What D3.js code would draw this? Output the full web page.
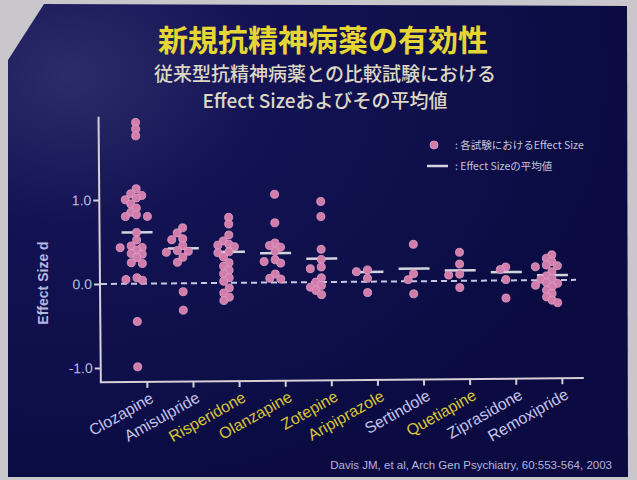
<!DOCTYPE html>
<html>
<head>
<meta charset="utf-8">
<script src="https://cdn.jsdelivr.net/npm/d3@7/dist/d3.min.js"></script>
<style>
  html, body { margin: 0; padding: 0; background: #c9c6cc; }
  svg { display: block; }
</style>
</head>
<body>
<svg id="chart" width="637" height="480"></svg>
<script>
// ---------- data ----------
const categories = ["Clozapine", "Amisulpride", "Risperidone", "Olanzapine", "Zotepine",
                    "Aripiprazole", "Sertindole", "Quetiapine", "Ziprasidone", "Remoxipride"];
const highlighted = ["Risperidone", "Olanzapine", "Zotepine", "Aripiprazole", "Quetiapine"];

const clozapine    = [1.92, 1.84, 1.76, 1.13, 1.07, 1.05, 1.02, 1.00, 0.95, 0.90, 0.85, 0.82, 0.80, 0.80,
                      0.61, 0.52, 0.45, 0.43, 0.43, 0.40, 0.36, 0.35, 0.31, 0.25, 0.24, 0.07, 0.05, 0.04, -0.45, -0.99];
const amisulpride  = [0.66, 0.60, 0.53, 0.52, 0.45, 0.39, 0.38, 0.37, 0.31, 0.25, -0.10, -0.32];
const risperidone  = [0.78, 0.70, 0.57, 0.50, 0.46, 0.45, 0.43, 0.37, 0.36, 0.31, 0.24, 0.20, 0.15, 0.11,
                      0.06, 0.02, -0.06, -0.12, -0.17, -0.21];
const olanzapine   = [1.05, 0.71, 0.47, 0.44, 0.42, 0.37, 0.27, 0.25, 0.23, 0.10, 0.05, 0.04];
const zotepine     = [0.96, 0.78, 0.39, 0.27, 0.18, 0.16, 0.05, 0.00, -0.04, -0.06, -0.10, -0.15];
const aripiprazole = [0.14, 0.12, 0.04, -0.13];
const sertindole   = [0.44, 0.09, 0.02, -0.15];
const quetiapine   = [0.34, 0.20, 0.08, 0.07, -0.08];
const ziprasidone  = [0.16, 0.13, 0.01, -0.21];
const remoxipride  = [0.30, 0.26, 0.22, 0.18, 0.17, 0.16, 0.10, 0.05, 0.02, 0.01, -0.03, -0.04, -0.06,
                      -0.08, -0.12, -0.16, -0.20, -0.24, -0.27];
const studyValues = [clozapine, amisulpride, risperidone, olanzapine, zotepine,
                     aripiprazole, sertindole, quetiapine, ziprasidone, remoxipride];
const meanValues  = [0.61, 0.415, 0.37, 0.35, 0.28, 0.115, 0.15, 0.125, 0.10, 0.06];
const yTicks = [-1.0, 0.0, 1.0];

const titleText = "新規抗精神病薬の有効性";
const subtitle1 = "従来型抗精神病薬との比較試験における";
const subtitle2 = "Effect Sizeおよびその平均値";
const yLabel = "Effect Size d";
const legendDot = ": 各試験におけるEffect Size";
const legendLine = ": Effect Sizeの平均値";
const sourceText = "Davis JM, et al, Arch Gen Psychiatry, 60:553-564, 2003";

// ---------- drawing ----------
const svg = d3.select("#chart");
const sans = "'Liberation Sans', Arial, Helvetica, sans-serif";
const cjk = "'Noto Sans CJK JP', 'Liberation Sans', sans-serif";

const defs = svg.append("defs");
const grad = defs.append("radialGradient").attr("id", "bg")
  .attr("cx", "0.1").attr("cy", "0.15").attr("r", "0.9");
grad.append("stop").attr("offset", "0").attr("stop-color", "#2c2c6a");
grad.append("stop").attr("offset", "0.35").attr("stop-color", "#131354");
grad.append("stop").attr("offset", "1").attr("stop-color", "#0b0b42");

// slide body with cut top-left corner (photo)
svg.append("path")
  .attr("d", "M44,4 L627,6 L628,477 L8,477 L8,60 Z")
  .attr("fill", "url(#bg)");

// titles
svg.append("text").attr("x", 323).attr("y", 51).attr("text-anchor", "middle")
  .attr("font-family", cjk).attr("font-weight", "bold").attr("font-size", 30)
  .attr("fill", "#e6d634").text(titleText);
svg.append("text").attr("x", 325).attr("y", 81).attr("text-anchor", "middle")
  .attr("font-family", cjk).attr("font-weight", 500).attr("font-size", 19)
  .attr("fill", "#dcd8c4").text(subtitle1);
svg.append("text").attr("x", 325).attr("y", 108).attr("text-anchor", "middle")
  .attr("font-family", cjk).attr("font-weight", 500).attr("font-size", 19)
  .attr("fill", "#dcd8c4").text(subtitle2);

// chart group (slightly rotated like the photographed slide)
const g = svg.append("g").attr("transform", "rotate(-0.5,100,284)");

const x = d3.scalePoint().domain(categories).range([137, 552]);
const y = d3.scaleLinear().domain([-1, 1]).range([368, 200]);
const yMin = -1.17, yMax = 1.99;
const tickShift = 9;
const axisColor = "#d6d0d4";

// y axis
const yAxis = d3.axisLeft(y).tickValues(yTicks).tickFormat(d => d.toFixed(1)).tickSize(6).tickSizeOuter(0);
const yg = g.append("g").attr("transform", "translate(100,0)").call(yAxis);
yg.select(".domain").remove();
yg.selectAll(".tick line").attr("stroke", axisColor).attr("stroke-width", 2);
yg.selectAll(".tick text").attr("fill", "#bcbce2").attr("font-family", sans)
  .attr("font-size", 14).attr("x", -8);
g.append("line").attr("x1", 100).attr("x2", 100).attr("y1", y(yMax)).attr("y2", y(yMin))
  .attr("stroke", axisColor).attr("stroke-width", 2);

// x axis
const xAxis = d3.axisBottom(x).tickSize(6).tickSizeOuter(0).tickFormat(() => "");
const xg = g.append("g").attr("transform", `translate(${tickShift},${y(yMin)})`).call(xAxis);
xg.select(".domain").remove();
xg.selectAll(".tick line").attr("stroke", axisColor).attr("stroke-width", 2);
g.append("line").attr("x1", 99).attr("x2", 583).attr("y1", y(yMin)).attr("y2", y(yMin))
  .attr("stroke", axisColor).attr("stroke-width", 2);

// category labels
g.selectAll(".cat").data(categories).join("text")
  .attr("class", "cat")
  .attr("transform", d => `translate(${x(d) + tickShift + 2},${y(yMin) + 9}) rotate(-29)`)
  .attr("text-anchor", "end").attr("dy", "0.75em")
  .attr("font-family", sans).attr("font-size", 16)
  .attr("fill", d => highlighted.includes(d) ? "#d9c636" : "#c4c4ec")
  .text(d => d);

// y label
svg.append("text").attr("transform", "translate(48,283) rotate(-90)")
  .attr("text-anchor", "middle").attr("font-family", sans).attr("font-weight", "bold")
  .attr("font-size", 14).attr("fill", "#b8b8e0").text(yLabel);

// zero dashed line
g.append("line").attr("x1", 101).attr("x2", 576).attr("y1", y(0)).attr("y2", y(0))
  .attr("stroke", "#c8c8e4").attr("stroke-width", 2).attr("stroke-dasharray", "6,4");

// beeswarm placement (computed)
const r = 4.0, step = 5.5, minDist = 6.0;
const dots = [];
categories.forEach((c, i) => {
  const vals = studyValues[i].slice().sort((a, b) => b - a);
  const placed = [];
  vals.forEach(v => {
    const cy = y(v);
    let off = 0;
    for (let k = 0; k < 20; k++) {
      const cand = k === 0 ? 0 : (k % 2 === 1 ? -Math.ceil(k / 2) : Math.ceil(k / 2)) * step;
      const ok = placed.every(p => Math.hypot(p.dx - cand, p.cy - cy) >= minDist);
      if (ok) { off = cand; break; }
    }
    placed.push({ dx: off, cy });
    dots.push({ cat: c, v, dx: off });
  });
});

// mean lines
g.selectAll(".mean").data(categories).join("line")
  .attr("class", "mean")
  .attr("x1", d => x(d) - 15).attr("x2", d => x(d) + 16)
  .attr("y1", (d, i) => y(meanValues[i])).attr("y2", (d, i) => y(meanValues[i]))
  .attr("stroke", "#d4d4dc").attr("stroke-width", 2.5);

g.selectAll(".dot").data(dots).join("circle")
  .attr("class", "dot")
  .attr("cx", d => x(d.cat) + d.dx).attr("cy", d => y(d.v)).attr("r", r)
  .attr("fill", "#d17dac").attr("stroke", "#e6a2c6").attr("stroke-width", 0.8);

// legend
const lg = svg.append("g");
lg.append("circle").attr("cx", 434).attr("cy", 145).attr("r", 4.0)
  .attr("fill", "#d17dac").attr("stroke", "#e6a2c6").attr("stroke-width", 0.8);
lg.append("text").attr("x", 455).attr("y", 149).attr("font-family", cjk)
  .attr("font-size", 10.5).attr("fill", "#c4c4dc").text(legendDot);
lg.append("line").attr("x1", 427).attr("x2", 448).attr("y1", 166).attr("y2", 166)
  .attr("stroke", "#d4d4dc").attr("stroke-width", 2.5);
lg.append("text").attr("x", 455).attr("y", 170).attr("font-family", cjk)
  .attr("font-size", 10.5).attr("fill", "#c4c4dc").text(legendLine);

// source
svg.append("text").attr("x", 612).attr("y", 469).attr("text-anchor", "end")
  .attr("font-family", sans).attr("font-size", 11.5).attr("fill", "#b4b4dc").text(sourceText);
</script>
</body>
</html>
